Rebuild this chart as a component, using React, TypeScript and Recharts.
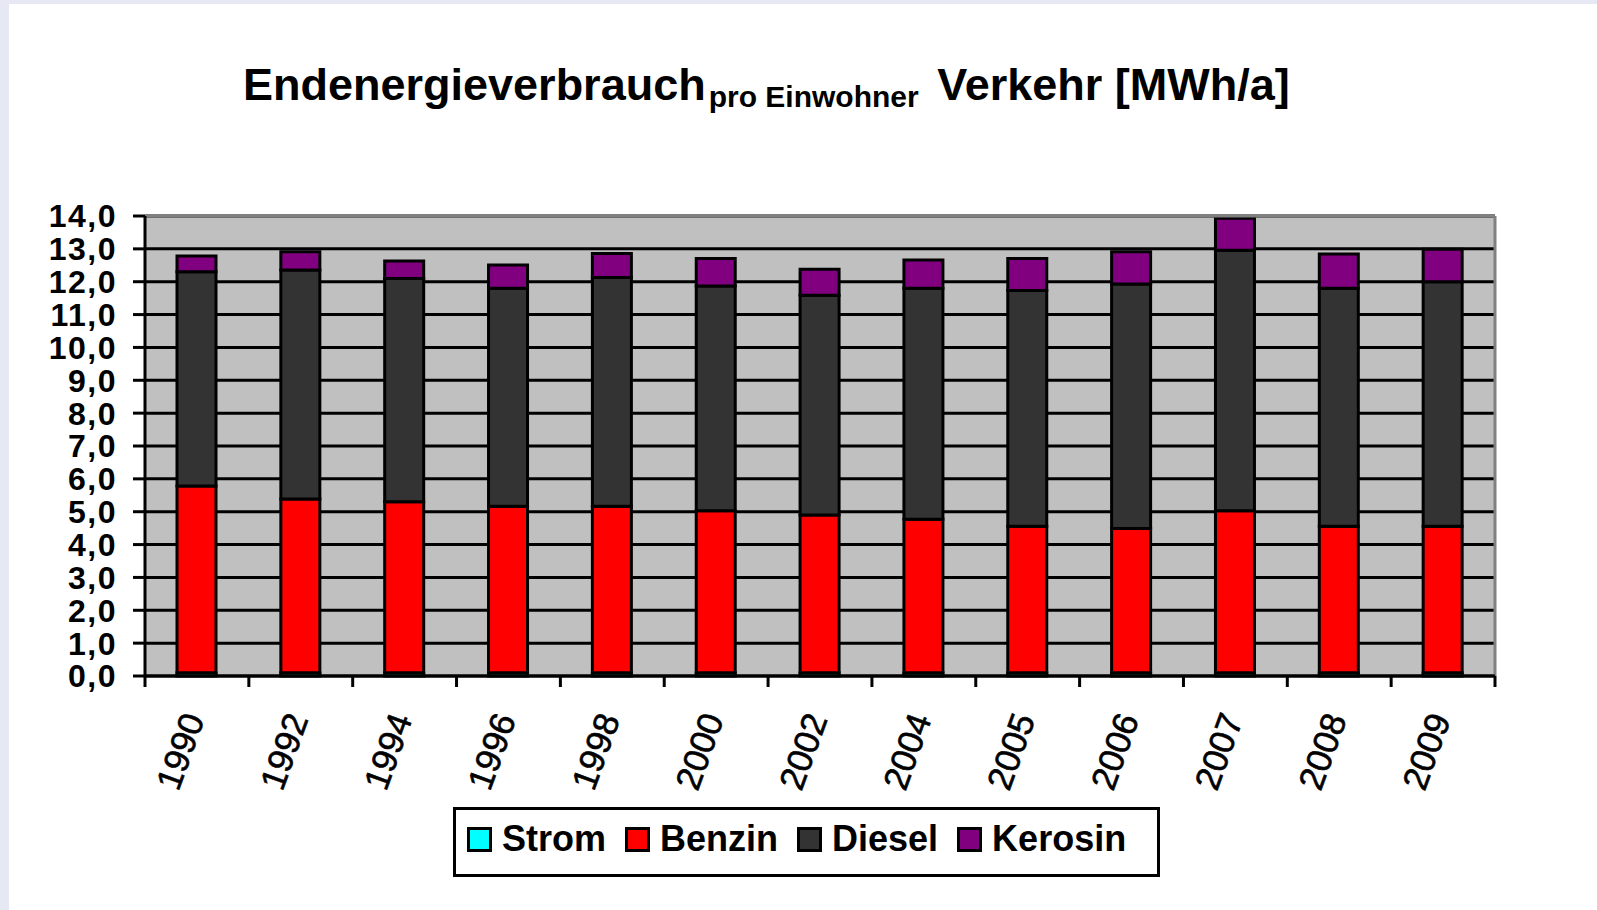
import React from 'react';
import { BarChart, Bar, XAxis, YAxis, CartesianGrid, ReferenceLine } from 'recharts';

const years = ['1990', '1992', '1994', '1996', '1998', '2000', '2002', '2004', '2005', '2006', '2007', '2008', '2009'];
const strom = [0.1, 0.1, 0.1, 0.1, 0.1, 0.1, 0.1, 0.1, 0.1, 0.1, 0.1, 0.1, 0.1];
const benzin = [5.68, 5.29, 5.2, 5.07, 5.07, 4.93, 4.8, 4.67, 4.46, 4.39, 4.93, 4.46, 4.46];
const diesel = [6.52, 6.97, 6.8, 6.63, 6.96, 6.84, 6.69, 7.03, 7.17, 7.44, 7.93, 7.24, 7.44];
const kerosin = [0.48, 0.55, 0.53, 0.71, 0.73, 0.84, 0.79, 0.86, 0.98, 0.98, 0.97, 1.04, 0.99];

const seriesNames = ['Strom', 'Benzin', 'Diesel', 'Kerosin'];
const seriesColors = ['#00ffff', '#ff0000', '#333333', '#800080'];
const yTicks = [0, 1, 2, 3, 4, 5, 6, 7, 8, 9, 10, 11, 12, 13, 14];

const data = years.map((year, i) => ({
  year,
  Strom: strom[i],
  Benzin: benzin[i],
  Diesel: diesel[i],
  Kerosin: kerosin[i],
}));

const FONT = '"Liberation Sans", Arial, sans-serif';
const PLOT_LEFT = 145;
const PLOT_RIGHT = 1495;
const BAND = (PLOT_RIGHT - PLOT_LEFT) / years.length;

const XTick = (props: any) => {
  const { x, y, index } = props;
  const left = x - BAND / 2;
  return (
    <g>
      <line x1={left} y1={y} x2={left} y2={y + 11} stroke="#000" strokeWidth={3} />
      {index === years.length - 1 && (
        <line x1={x + BAND / 2} y1={y} x2={x + BAND / 2} y2={y + 11} stroke="#000" strokeWidth={3} />
      )}
      <text
        x={x + 8}
        y={y + 43}
        transform={`rotate(-70, ${x + 8}, ${y + 43})`}
        textAnchor="end"
        fontSize={35}
        fontFamily={FONT}
        fill="#000"
        stroke="#000"
        strokeWidth={0.6}
      >
        {props.payload.value}
      </text>
    </g>
  );
};

const Legend = () => (
  <div
    style={{
      position: 'absolute',
      left: 453,
      top: 807,
      width: 707,
      height: 70,
      boxSizing: 'border-box',
      border: '3px solid #000',
      background: '#fff',
      display: 'flex',
      alignItems: 'center',
      paddingLeft: 11,
      paddingBottom: 6,
      fontFamily: FONT,
      fontWeight: 'bold',
      fontSize: 36,
    }}
  >
    {seriesNames.map((name, i) => (
      <div key={name} style={{ display: 'flex', alignItems: 'center', marginRight: 19 }}>
        <div
          style={{
            width: 25,
            height: 25,
            boxSizing: 'border-box',
            border: '3px solid #000',
            background: seriesColors[i],
            marginRight: 10,
          }}
        />
        <span style={{ lineHeight: '36px' }}>{name}</span>
      </div>
    ))}
  </div>
);

export default function App() {
  return (
    <div style={{ position: 'absolute', left: 0, top: 0, width: 1597, height: 910, background: '#e6e8f4' }}>
      <div style={{ position: 'absolute', left: 9, top: 4, right: 0, bottom: 0, background: '#fff' }} />
      <svg style={{ position: 'absolute', left: 0, top: 0 }} width={1597} height={140}>
        <text x={243} y={100} fontFamily={FONT} fontWeight="bold" fontSize={45} fill="#000">
          Endenergieverbrauch
          <tspan fontSize={30} dy={7} dx={3}>pro Einwohner</tspan>
          <tspan dy={-7} dx={6}> Verkehr [MWh/a]</tspan>
        </text>
      </svg>
      <div style={{ position: 'absolute', left: 0, top: 0 }}>
        <BarChart
          width={1597}
          height={910}
          data={data}
          margin={{ top: 216, right: 1597 - PLOT_RIGHT, left: PLOT_LEFT - 80, bottom: 114 }}
          barSize={39}
        >
          <CartesianGrid fill="#c0c0c0" vertical={false} stroke="#000" strokeWidth={3} />
          <CartesianGrid horizontal={false} verticalPoints={[PLOT_RIGHT]} stroke="#808080" strokeWidth={3} />
          <ReferenceLine y={14} stroke="#808080" strokeWidth={3} />
          <XAxis
            dataKey="year"
            height={120}
            axisLine={{ stroke: '#000', strokeWidth: 3 }}
            tickLine={false}
            tickSize={0}
            tickMargin={0}
            interval={0}
            tick={<XTick />}
          />
          <YAxis
            width={80}
            domain={[0, 14]}
            ticks={yTicks}
            interval={0}
            axisLine={{ stroke: '#000', strokeWidth: 3 }}
            tickLine={{ stroke: '#000', strokeWidth: 3 }}
            tickSize={12}
            tickMargin={16}
            tick={{ fontSize: 32, fontWeight: 'bold', fill: '#000', fontFamily: FONT, letterSpacing: 1.5 }}
            tickFormatter={(v: number) => v.toFixed(1).replace('.', ',')}
          />
          {seriesNames.map((name, i) => (
            <Bar
              key={name}
              dataKey={name}
              stackId="a"
              fill={seriesColors[i]}
              stroke="#000"
              strokeWidth={3}
              isAnimationActive={false}
            />
          ))}
        </BarChart>
      </div>
      <Legend />
    </div>
  );
}
